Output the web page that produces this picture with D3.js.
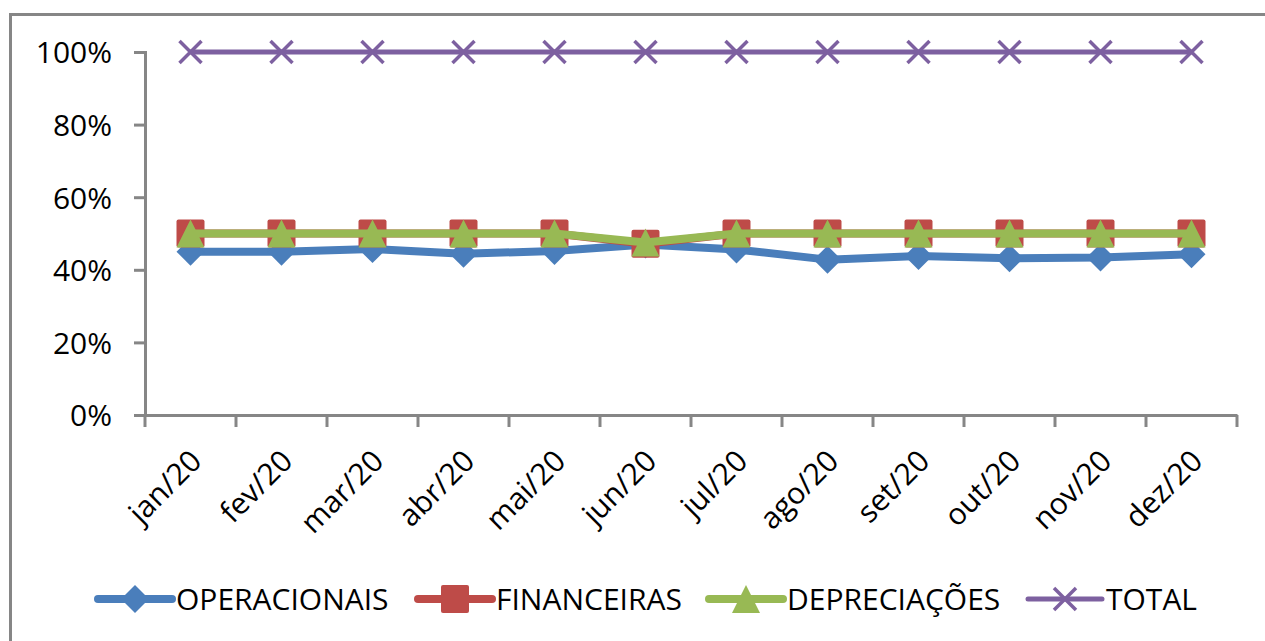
<!DOCTYPE html>
<html>
<head>
<meta charset="utf-8">
<script src="https://cdn.jsdelivr.net/npm/d3@7"></script>
<style>
  body { margin: 0; background: #fff; }
  svg { display: block; }
  svg text { font-family: "Open Sans", sans-serif; }
</style>
</head>
<body>
<svg></svg>
<script>
const width = 1265;
const height = 641;

// dados
const months = ["jan/20", "fev/20", "mar/20", "abr/20", "mai/20", "jun/20",
                "jul/20", "ago/20", "set/20", "out/20", "nov/20", "dez/20"];
const operacionais = [0.45, 0.45, 0.457, 0.444, 0.452, 0.47, 0.456, 0.428, 0.438, 0.432, 0.434, 0.443];
const financeiras = [0.50, 0.50, 0.50, 0.50, 0.50, 0.472, 0.50, 0.50, 0.50, 0.50, 0.50, 0.50];
const depreciacoes = [0.50, 0.50, 0.50, 0.50, 0.50, 0.475, 0.50, 0.50, 0.50, 0.50, 0.50, 0.50];
const total = [1, 1, 1, 1, 1, 1, 1, 1, 1, 1, 1, 1];
const yTicks = [0, 0.2, 0.4, 0.6, 0.8, 1];
const seriesNames = ["OPERACIONAIS", "FINANCEIRAS", "DEPRECIAÇÕES", "TOTAL"];

const series = [
  {name: seriesNames[0], values: operacionais, color: "#4a7ebb", lw: 8, marker: "diamond"},
  {name: seriesNames[1], values: financeiras, color: "#be4b48", lw: 8, marker: "square"},
  {name: seriesNames[2], values: depreciacoes, color: "#98b954", lw: 8, marker: "triangle"},
  {name: seriesNames[3], values: total, color: "#7d60a0", lw: 5, marker: "cross"}
];

const plot = {left: 145, right: 1237, top: 52, bottom: 415};
const fontSize = "30px";

let svg = d3.select("svg")
  .attr("width", width)
  .attr("height", height);

// moldura externa
svg.append("rect")
  .attr("x", 10.5).attr("y", 14.5)
  .attr("width", 1300).attr("height", 700)
  .attr("fill", "#fff")
  .attr("stroke", "#868686")
  .attr("stroke-width", 3);

const x = d3.scaleBand()
  .domain(months)
  .range([plot.left, plot.right]);

const y = d3.scaleLinear()
  .domain([0, 1])
  .range([plot.bottom, plot.top]);

const cx = d => x(d) + x.bandwidth() / 2;

// eixo Y
let axisY = svg.append("g")
  .attr("transform", `translate(${plot.left}, 0)`)
  .call(d3.axisLeft(y).tickValues(yTicks).tickFormat(d3.format(".0%")).tickSize(11).tickPadding(22));
axisY.attr("font-family", null);
axisY.select(".domain").attr("stroke", "#868686").attr("stroke-width", 3);
axisY.selectAll(".tick line").attr("stroke", "#868686").attr("stroke-width", 3);
axisY.selectAll("text").attr("fill", "#000").style("font-size", fontSize).attr("dy", "0.36em");

// eixo X
let axisX = svg.append("g")
  .attr("transform", `translate(0, ${plot.bottom})`)
  .call(d3.axisBottom(x).tickSize(0).tickFormat(""));
axisX.select(".domain").attr("stroke", "#868686").attr("stroke-width", 3);

const tickPos = months.map(m => x(m)).concat([plot.right]);
svg.append("g").selectAll("line")
  .data(tickPos)
  .join("line")
  .attr("x1", d => d).attr("x2", d => d)
  .attr("y1", plot.bottom).attr("y2", plot.bottom + 12)
  .attr("stroke", "#868686").attr("stroke-width", 3);

svg.append("g").selectAll("text")
  .data(months)
  .join("text")
  .attr("transform", d => `translate(${cx(d) - 2}, ${plot.bottom + 33}) rotate(-45)`)
  .attr("text-anchor", "end")
  .attr("dy", "0.7em")
  .style("font-size", fontSize)
  .text(d => d);

// marcadores
function drawMarker(g, type, color, size) {
  if (type === "diamond") {
    g.append("path").attr("d", `M0,${-size}L${size},0L0,${size}L${-size},0Z`).attr("fill", color);
  } else if (type === "square") {
    g.append("rect").attr("x", -size).attr("y", -size).attr("width", 2 * size).attr("height", 2 * size)
      .attr("rx", 2).attr("fill", color);
  } else if (type === "triangle") {
    g.append("path").attr("d", `M0,${-size}L${size},${size}L${-size},${size}Z`).attr("fill", color);
  } else if (type === "cross") {
    g.append("path").attr("d", `M${-size},${-size}L${size},${size}M${-size},${size}L${size},${-size}`)
      .attr("stroke", color).attr("stroke-width", 3.5).attr("fill", "none");
  }
}
const markerSize = {diamond: 14, square: 14, triangle: 14, cross: 11};

const line = d3.line().x(d => cx(d[0])).y(d => y(d[1]));

series.forEach(s => {
  const pts = months.map((m, i) => [m, s.values[i]]);
  svg.append("path")
    .datum(pts)
    .attr("d", line)
    .attr("fill", "none")
    .attr("stroke", s.color)
    .attr("stroke-width", s.lw)
    .attr("stroke-linejoin", "round");
  pts.forEach(p => {
    let g = svg.append("g").attr("transform", `translate(${cx(p[0])}, ${y(p[1])})`);
    drawMarker(g, s.marker, s.color, markerSize[s.marker]);
  });
});

// legenda
const legendX = [98, 418, 709, 1028];
const legendY = 599;
series.forEach((s, i) => {
  let g = svg.append("g").attr("transform", `translate(${legendX[i]}, ${legendY})`);
  g.append("line")
    .attr("x1", 0).attr("x2", 74)
    .attr("y1", 0).attr("y2", 0)
    .attr("stroke", s.color)
    .attr("stroke-width", s.lw)
    .attr("stroke-linecap", "round");
  let m = g.append("g").attr("transform", "translate(37, 0)");
  drawMarker(m, s.marker, s.color, markerSize[s.marker]);
  g.append("text")
    .attr("x", 78)
    .attr("dy", "0.36em")
    .style("font-size", fontSize)
    .text(s.name);
});
</script>
</body>
</html>
